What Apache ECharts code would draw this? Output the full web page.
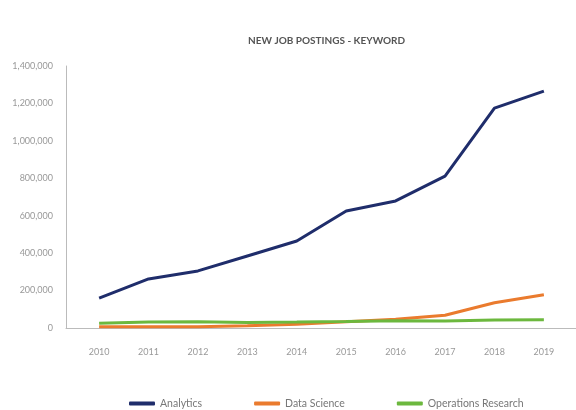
<!DOCTYPE html>
<html>
<head>
<meta charset="utf-8">
<script src="https://cdn.jsdelivr.net/npm/echarts@6/dist/echarts.min.js"></script>
<style>
  html, body { margin: 0; padding: 0; background: #fff; }
  #main { width: 576px; height: 410px; }
</style>
</head>
<body>
<div id="main"></div>
<script>
  var years = [2010, 2011, 2012, 2013, 2014, 2015, 2016, 2017, 2018, 2019];
  var analytics = [160000, 262000, 305000, 385000, 465000, 625000, 679000, 812000, 1175000, 1266000];
  var dataScience = [7000, 7000, 7000, 12000, 20000, 34000, 47000, 68000, 135000, 178000];
  var opsResearch = [25000, 32000, 33000, 30000, 32000, 35000, 39000, 38000, 43000, 44000];

  function pairs(vals) {
    var out = [];
    for (var i = 0; i < years.length; i++) out.push([years[i], vals[i]]);
    return out;
  }

  var chart = echarts.init(document.getElementById('main'));
  chart.setOption({
    animation: false,
    textStyle: { fontFamily: 'Lato' },
    title: {
      text: 'NEW JOB POSTINGS - KEYWORD',
      left: 243,
      top: 31,
      textStyle: { fontSize: 10, fontWeight: 'bold', color: '#555', fontFamily: 'Lato' }
    },
    legend: {
      top: 393,
      left: 124,
      itemWidth: 26,
      itemHeight: 4,
      itemGap: 52,
      icon: 'roundRect',
      textStyle: { fontSize: 10.5, color: '#777' },
      data: ['Analytics', 'Data Science', 'Operations Research']
    },
    grid: { left: 66, right: 0, top: 66, bottom: 82 },
    xAxis: {
      type: 'value',
      min: 2009.33,
      max: 2019.65,
      splitLine: { show: false },
      axisLine: { show: true, lineStyle: { color: '#bbb' } },
      axisTick: { show: false },
      axisLabel: {
        customValues: years,
        color: '#999',
        fontSize: 9,
        margin: 20,
        formatter: function (v) { return String(v); }
      }
    },
    yAxis: {
      type: 'value',
      min: 0,
      max: 1400000,
      interval: 200000,
      splitLine: { show: false },
      axisLine: { show: true, lineStyle: { color: '#bbb' } },
      axisTick: { show: false },
      axisLabel: {
        color: '#999',
        fontSize: 9,
        margin: 13,
        formatter: function (v) { return v.toLocaleString('en-US'); }
      }
    },
    series: [
      {
        name: 'Analytics', type: 'line', data: pairs(analytics),
        showSymbol: false, symbol: 'none',
        lineStyle: { width: 3, color: '#1f2d6b' }, itemStyle: { color: '#1f2d6b' }
      },
      {
        name: 'Data Science', type: 'line', data: pairs(dataScience),
        showSymbol: false, symbol: 'none',
        lineStyle: { width: 3, color: '#ea7b2e' }, itemStyle: { color: '#ea7b2e' }
      },
      {
        name: 'Operations Research', type: 'line', data: pairs(opsResearch),
        showSymbol: false, symbol: 'none',
        lineStyle: { width: 3, color: '#6cb83e' }, itemStyle: { color: '#6cb83e' }
      }
    ]
  });
</script>
</body>
</html>
